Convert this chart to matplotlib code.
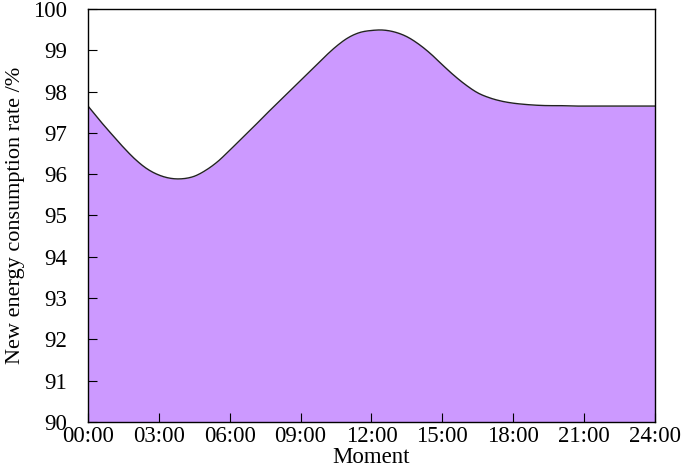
import numpy as np
import matplotlib
matplotlib.use("Agg")
import matplotlib.pyplot as plt

# half-hourly consumption rate
hours = np.arange(0, 24.5, 0.5)
rate = [97.65, 97.30, 96.97, 96.65, 96.36, 96.13, 95.98, 95.90, 95.89, 95.95,
        96.10, 96.31, 96.58, 96.86, 97.14, 97.43, 97.71, 97.99, 98.27, 98.55,
        98.83, 99.09, 99.30, 99.43, 99.48, 99.49, 99.44, 99.33, 99.15, 98.92,
        98.65, 98.39, 98.16, 97.97, 97.85, 97.77, 97.72, 97.69, 97.67, 97.66,
        97.66, 97.65, 97.65, 97.65, 97.65, 97.65, 97.65, 97.65, 97.65]

x_ticks = np.arange(0, 25, 3)
x_labels = ["00:00", "03:00", "06:00", "09:00", "12:00", "15:00", "18:00", "21:00", "24:00"]
y_ticks = np.arange(90, 101, 1)

fill_color = '#cc99ff'
font = 'Liberation Serif'


def smooth(x, y, n=10):
    # cubic hermite (catmull-rom) through the read points, for drawing only
    x = np.asarray(x, float)
    y = np.asarray(y, float)
    m = np.gradient(y, x)
    xs, ys = [], []
    for i in range(len(x) - 1):
        h = x[i + 1] - x[i]
        t = np.linspace(0, 1, n, endpoint=False)
        h00 = 2 * t**3 - 3 * t**2 + 1
        h10 = t**3 - 2 * t**2 + t
        h01 = -2 * t**3 + 3 * t**2
        h11 = t**3 - t**2
        xs.append(x[i] + t * h)
        ys.append(h00 * y[i] + h10 * h * m[i] + h01 * y[i + 1] + h11 * h * m[i + 1])
    xs.append([x[-1]])
    ys.append([y[-1]])
    return np.concatenate(xs), np.concatenate(ys)


sx, sy = smooth(hours, rate)

fig = plt.figure(figsize=(6.85, 4.67), dpi=100)
ax = fig.add_axes([0.1285, 0.0964, 0.956 - 0.1285, 0.9807 - 0.0964])

ax.fill_between(sx, 90, sy, color=fill_color, linewidth=0)
ax.plot(sx, sy, color='#222222', linewidth=1.0)

ax.set_xlim(0, 24)
ax.set_ylim(90, 100)
ax.set_xticks(x_ticks)
ax.set_xticklabels(x_labels)
ax.set_yticks(y_ticks)

ax.tick_params(direction='in', length=6.5, width=0.8, top=False, right=False)
ax.tick_params(axis='y', pad=15)
ax.tick_params(axis='x', pad=3)
for lab in ax.get_xticklabels() + ax.get_yticklabels():
    lab.set_fontfamily(font)
    lab.set_fontsize(16.5)

for s in ax.spines.values():
    s.set_linewidth(1.0)
    s.set_color('black')

ax.set_xlabel("Moment", fontfamily=font, fontsize=16.5, labelpad=0)
ax.set_ylabel("New energy consumption rate /%", fontfamily=font, fontsize=16, labelpad=6)

fig.savefig("out.png", dpi=100)
